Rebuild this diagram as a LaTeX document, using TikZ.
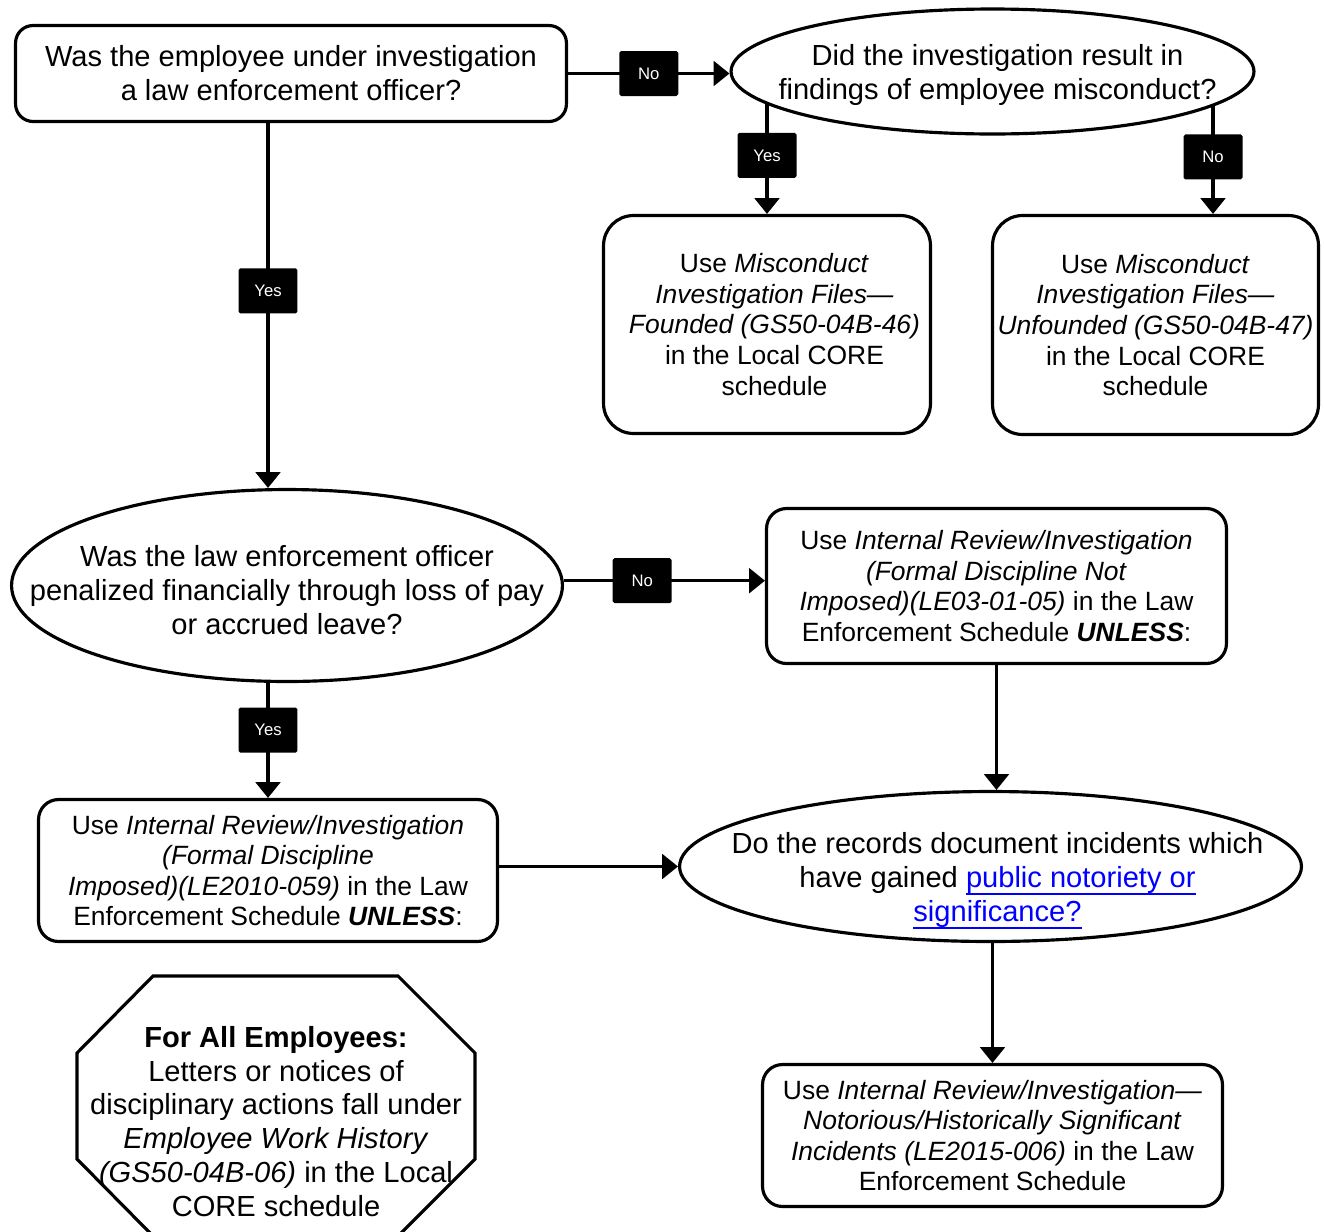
\documentclass[tikz,border=0pt]{standalone}
\usepackage{fontspec}
\setmainfont{Liberation Sans}
\usetikzlibrary{shapes.geometric,arrows.meta}

\definecolor{linkblue}{RGB}{0,0,255}
\newcommand\weblink[1]{{\color{linkblue}\setbox0\hbox{#1}\rlap{\rule[-0.27em]{\wd0}{1.2pt}}\box0}}

\tikzset{
	bigfont/.style={font=\fontsize{16.55}{19.3}\selectfont},
	smallfont/.style={font=\fontsize{15.05}{17.43}\selectfont},
	box/.style={draw, line width=1.8pt, align=center, inner sep=1pt},
	action/.style={box, smallfont, rounded corners=0.4cm},
	decision/.style={draw, ellipse, line width=1.8pt, inner sep=0pt},
	qtext/.style={bigfont, align=center, inner sep=0pt},
	tag/.style={fill=black, text=white, rounded corners=1pt, inner sep=0pt,
		minimum width=1.18cm, minimum height=0.9cm, font=\fontsize{9.5}{11}\selectfont},
	arrow/.style={line width=1.8pt, -{Triangle[length=9pt,width=14pt]}}
}

\begin{document}
\begin{tikzpicture}[x=0.02cm, y=-0.02cm]
\useasboundingbox (0,0) rectangle (1324,1231);
\clip (0,0) rectangle (1324,1231);

% questions
\node[box, bigfont, rounded corners=0.35cm, minimum width=11.02cm, minimum height=1.92cm] (qA) at (291,73.5) {Was the employee under investigation\\a law enforcement officer?};
\node[decision, minimum width=10.46cm, minimum height=2.5cm] (qB) at (992.5,71.5) {};
\node[qtext] (tB) at ([xshift=0.1cm, yshift=-0.07cm]qB.center) {Did the investigation result in\\findings of employee misconduct?};
\node[decision, minimum width=11.02cm, minimum height=3.84cm] (qE) at (287,585.5) {};
\node[qtext] (tE) at ([yshift=-0.09cm]qE.center) {Was the law enforcement officer\\penalized financially through loss of pay\\or accrued leave?};
\node[decision, minimum width=12.44cm, minimum height=3.0cm] (qH) at (990.5,866.5) {};
\node[qtext] (tH) at ([xshift=0.14cm, yshift=-0.28cm]qH.center) {Do the records document incidents which\\have gained \weblink{public notoriety or}\\\weblink{significance?}};

% schedules
\node[action, rounded corners=0.6cm, minimum width=6.54cm, minimum height=4.36cm] (cC) at (767,324.5) {\hspace*{0.3cm}Use \textit{Misconduct}\\\hspace*{0.3cm}\textit{Investigation Files—}\\\hspace*{0.3cm}\textit{Founded (GS50-04B-46)}\\\hspace*{0.3cm}in the Local CORE\\\hspace*{0.3cm}schedule};
\node[action, rounded corners=0.6cm, minimum width=6.52cm, minimum height=4.38cm] (dD) at (1155.5,325) {Use \textit{Misconduct}\\\textit{Investigation Files—}\\\textit{Unfounded (GS50-04B-47)}\\in the Local CORE\\schedule};
\node[action, minimum width=9.2cm, minimum height=3.1cm] (fF) at (996.5,586) {Use \textit{Internal Review/Investigation}\\\textit{(Formal Discipline Not}\\\textit{Imposed)(LE03-01-05)} in the Law\\Enforcement Schedule \textbf{\textit{UNLESS}}:};
\node[action, minimum width=9.18cm, minimum height=2.84cm] (gG) at (268,870.5) {Use \textit{Internal Review/Investigation}\\\textit{(Formal Discipline}\\\textit{Imposed)(LE2010-059)} in the Law\\Enforcement Schedule \textbf{\textit{UNLESS}}:};
\node[action, minimum width=9.2cm, minimum height=2.84cm] (iI) at (992.5,1135.5) {Use \textit{Internal Review/Investigation—}\\\textit{Notorious/Historically Significant}\\\textit{Incidents (LE2015-006)} in the Law\\Enforcement Schedule};

% connectors
\draw[arrow] (qA.east) -- node[tag] (no1) {No} (qA.east -| qB.west);
\draw[arrow] (cC.north |- qB.188) -- node[tag, pos=0.47] (yes1) {Yes} (cC.north);
\draw[arrow] (qB.351) -- node[tag, pos=0.47] (no2) {No} (qB.351 |- dD.north);
\draw[arrow] (qA.south -| gG.north) -- node[tag, pos=0.46] (yes2) {Yes} (qE.north -| gG.north);
\draw[arrow] (qE.1) -- node[tag, pos=0.39] (no3) {No} (qE.1 -| fF.west);
\draw[arrow] (qE.south -| gG.north) -- node[tag, pos=0.41] (yes3) {Yes} (gG.north);
\draw[arrow] (qH.west -| gG.east) -- (qH.west);
\draw[arrow] (fF.south) -- (fF.south |- qH.north);
\draw[arrow] (iI.north |- qH.south) -- (iI.north);

% note for all employees
\draw[line width=1.8pt] (153,976) -- (398,976) -- (475,1053) -- (475,1159) -- (398,1236) -- (153,1236) -- (77,1159) -- (77,1053) -- cycle;
\node[qtext] (note) at (276,1121.5) {\textbf{For All Employees:}\\Letters or notices of\\disciplinary actions fall under\\\textit{Employee Work History}\\\textit{(GS50-04B-06)} in the Local\\CORE schedule};
\end{tikzpicture}
\end{document}
